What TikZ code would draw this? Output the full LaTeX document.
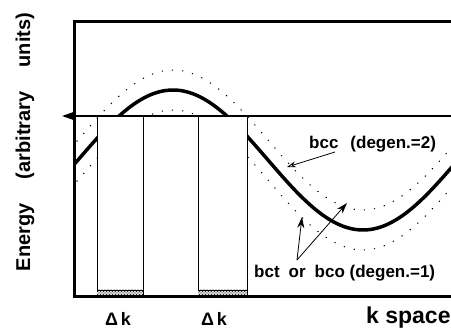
\documentclass[tikz,border=0pt]{standalone}
\usepackage{fontspec}
\setmainfont{Liberation Sans}
\usetikzlibrary{arrows.meta,patterns}
\begin{document}
\begin{tikzpicture}[x=1pt,y=-1pt,
  frameline/.style={line width=3pt, line join=miter},
  thinline/.style={line width=0.9pt},
  solidcurve/.style={line width=3.5pt},
  dotcurve/.style={line width=1pt, dash pattern=on 1.2pt off 9pt},
  lbl/.style={font=\fontsize{17}{20}\selectfont\bfseries, inner sep=0pt},
  dklbl/.style={font=\fontsize{18}{21}\selectfont\bfseries, inner sep=0pt},
  axislbl/.style={font=\fontsize{20}{24}\selectfont\bfseries, inner sep=0pt},
  klbl/.style={font=\fontsize{23}{26}\selectfont\bfseries, inner sep=0pt},
  ptr/.style={line width=0.8pt, -{Stealth[length=11pt,width=7pt]}},
  ptropen/.style={line width=0.8pt, -{Stealth[open,length=9pt,width=6pt]}},
]
\useasboundingbox (0,0) rectangle (451,329);
% curves
\begin{scope}
  \clip (74,0) rectangle (451,329);
  \draw[solidcurve] plot[smooth,samples=120,domain=70:455] (\x,{160-70*cos(0.947368*(\x-173))});
  \draw[dotcurve] plot[smooth,samples=120,domain=70:455] (\x,{140-70*cos(0.947368*(\x-173))});
  \draw[dotcurve] plot[smooth,samples=120,domain=70:455] (\x,{180-70*cos(0.947368*(\x-173))});
\end{scope}
% white boxes (Delta k windows)
\fill[white] (97,116) rectangle (247,297);
\draw[thinline] (97,116) -- (97,297);
\draw[thinline] (143,116) -- (143,297);
\draw[thinline] (198,116) -- (198,297);
\draw[thinline] (247,116) -- (247,297);
\fill[gray!30] (97,290) rectangle (143,297);
\fill[gray!30] (198,290) rectangle (247,297);
\fill[pattern=crosshatch dots] (97,290) rectangle (143,297);
\fill[pattern=crosshatch dots] (198,290) rectangle (247,297);
\draw[thinline] (97,290) -- (143,290);
\draw[thinline] (198,290) -- (247,290);
% Fermi level line with arrow
\coordinate (fR) at (451,116);
\coordinate (fL) at (62,116);
\draw[line width=1.4pt, -{Triangle[length=12pt,width=8pt]}] (fR) -- (fL);
% frame
\draw[frameline] (451,22) -- (74,22) -- (74,297) -- (451,297);
% labels
\node[lbl, anchor=west] (bcc) at (309,144) {bcc\hspace{12pt}(degen.=2)};
\coordinate (bccfrom) at (335,152);
\coordinate (bcctip) at (287,167);
\draw[ptropen] (bccfrom) -- (bcctip);
\node[lbl, anchor=west] (bct) at (254,273) {bct\hspace{9pt}or\hspace{9pt}bco (degen.=1)};
\coordinate (bctfrom) at (297,260);
\coordinate (bcttipA) at (302,217);
\coordinate (bcttipB) at (347,203);
\draw[ptr] (bctfrom) -- (bcttipA);
\draw[ptr] (bctfrom) -- (bcttipB);
\node[dklbl] (dk1) at (118,319) {Δ\,k};
\node[dklbl] (dk2) at (214,319) {Δ\,k};
\node[klbl, anchor=west] (kspace) at (366,318) {k space};
\node[axislbl, rotate=90] (elabel) at (25,142) {Energy\hspace{24pt}(arbitrary\hspace{24pt}units)};
\end{tikzpicture}
\end{document}
